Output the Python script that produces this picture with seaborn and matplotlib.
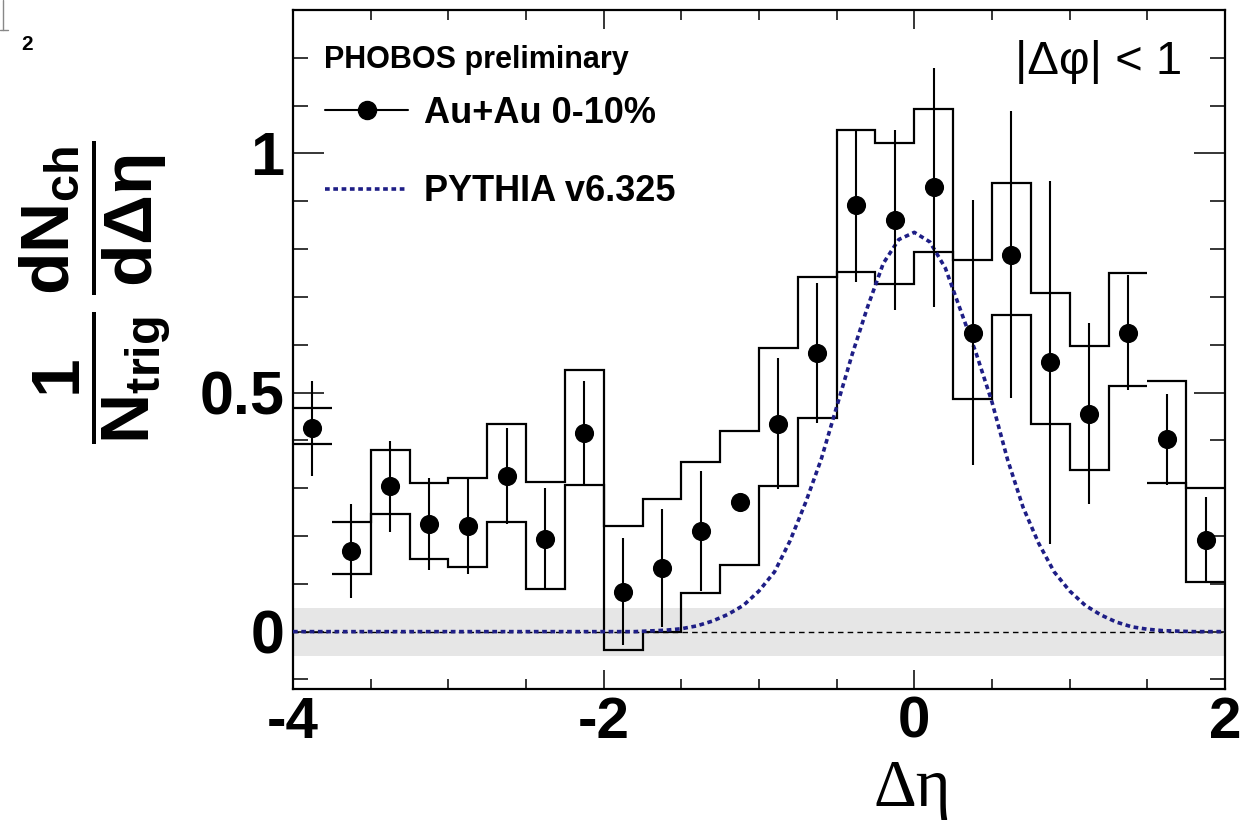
import numpy as np
import matplotlib
matplotlib.use("Agg")
import matplotlib.pyplot as plt
from matplotlib.lines import Line2D
from matplotlib.ticker import MultipleLocator, FixedLocator
import seaborn as sns

# ---------------- data ----------------
bin_edges = [-4.0, -3.75, -3.5, -3.25, -3.0, -2.75, -2.5, -2.25, -2.0, -1.75,
             -1.5, -1.25, -1.0, -0.75, -0.5, -0.25, 0.0, 0.25, 0.5, 0.75,
             1.0, 1.25, 1.5, 1.75, 2.0]
eta = [-3.875, -3.625, -3.375, -3.125, -2.875, -2.625, -2.375, -2.125,
       -1.875, -1.625, -1.375, -1.125, -0.875, -0.625, -0.375, -0.125,
       0.125, 0.375, 0.625, 0.875, 1.125, 1.375, 1.625, 1.875]
yield_auau = [0.425, 0.169, 0.304, 0.225, 0.221, 0.325, 0.194, 0.415,
              0.083, 0.133, 0.210, 0.271, 0.435, 0.583, 0.892, 0.860,
              0.929, 0.625, 0.788, 0.563, 0.456, 0.625, 0.402, 0.192]
stat_err = [0.100, 0.098, 0.095, 0.096, 0.100, 0.100, 0.107, 0.110,
            0.112, 0.123, 0.126, np.nan, 0.137, 0.146, 0.160, 0.188,
            0.250, 0.277, 0.300, 0.380, 0.190, 0.120, 0.095, 0.090]
sys_hi = [0.467, 0.229, 0.379, 0.310, 0.321, 0.435, 0.313, 0.548,
          0.221, 0.277, 0.354, 0.419, 0.594, 0.742, 1.048, 1.021,
          1.094, 0.777, 0.938, 0.709, 0.598, 0.750, 0.525, 0.300]
sys_lo = [0.392, 0.121, 0.246, 0.152, 0.135, 0.229, 0.090, 0.306,
          -0.038, 0.000, 0.081, 0.140, 0.305, 0.446, 0.752, 0.726,
          0.794, 0.486, 0.662, 0.435, 0.338, 0.513, 0.310, 0.104]
sys_groups = [(0, 1), (1, 22), (22, 24)]

pythia_x = [-4.0, -1.8, -1.6, -1.5, -1.4, -1.3, -1.2, -1.1, -1.0, -0.9, -0.8,
            -0.7, -0.6, -0.5, -0.4, -0.3, -0.2, -0.1, 0.0, 0.1, 0.2, 0.3,
            0.4, 0.5, 0.6, 0.7, 0.8, 0.9, 1.0, 1.1, 1.2, 1.3, 1.4, 1.5,
            1.6, 1.8, 2.0]
pythia_y = [0.0, 0.0, 0.003, 0.006, 0.012, 0.022, 0.036, 0.055, 0.085,
            0.125, 0.19, 0.27, 0.36, 0.47, 0.58, 0.68, 0.77, 0.82, 0.835,
            0.815, 0.76, 0.67, 0.58, 0.48, 0.36, 0.26, 0.185, 0.125, 0.085,
            0.055, 0.035, 0.02, 0.01, 0.005, 0.002, 0.0, 0.0]
band_half = 0.05

x_major = [-4, -2, 0, 2]
x_labels = ["-4", "-2", "0", "2"]
y_major = [0, 0.5, 1]
y_labels = ["0", "0.5", "1"]

legend_title = "PHOBOS preliminary"
label_data = "Au+Au 0-10%"
label_pythia = "PYTHIA v6.325"
cut_text = "|Δφ| < 1"

# ---------------- style ----------------
sns.set_theme(style="ticks")
plt.rcParams["font.family"] = ["Liberation Sans", "DejaVu Sans"]
plt.rcParams["text.color"] = "black"
plt.rcParams["mathtext.fontset"] = "custom"
plt.rcParams["mathtext.rm"] = "Liberation Sans"
plt.rcParams["mathtext.bf"] = "Liberation Sans:bold"
plt.rcParams["mathtext.it"] = "Liberation Sans:italic"

navy = "#1e1e86"
W, H = 1244, 823
fig = plt.figure(figsize=(W / 100, H / 100), dpi=100)
fig.patch.set_facecolor("white")
L, R, T, B = 293, 1225, 10, 689
ax = fig.add_axes([L / W, 1 - B / H, (R - L) / W, (B - T) / H])
ax.set_facecolor("white")

# grey band around zero and dashed zero line
ax.axhspan(-band_half, band_half, color="#e6e6e6", lw=0, zorder=0)
ax.axhline(0, color="black", lw=1.0, ls=(0, (4, 3)), zorder=1)

# systematic envelopes (upper and lower step lines)
for a, b in sys_groups:
    ax.stairs(sys_hi[a:b], bin_edges[a:b + 1], baseline=None,
              color="black", lw=1.6, zorder=3)
    ax.stairs(sys_lo[a:b], bin_edges[a:b + 1], baseline=None,
              color="black", lw=1.6, zorder=3)

# PYTHIA curve
sns.lineplot(x=pythia_x, y=pythia_y, ax=ax, color=navy, lw=2.6,
             linestyle=(0, (1.3, 1.0)), sort=False, estimator=None, zorder=4)

# statistical error bars and points
ax.errorbar(eta, yield_auau, yerr=stat_err, fmt="none", ecolor="black",
            elinewidth=1.5, capsize=0, zorder=5)
sns.scatterplot(x=eta, y=yield_auau, ax=ax, color="black", s=190,
                edgecolor="black", linewidth=0, zorder=6, legend=False)

# axes ranges and ticks
ax.set_xlim(-4, 2)
ax.set_ylim(-0.12, 1.3)
ax.xaxis.set_major_locator(FixedLocator(x_major))
ax.xaxis.set_minor_locator(MultipleLocator(0.5))
ax.yaxis.set_major_locator(FixedLocator(y_major))
ax.yaxis.set_minor_locator(MultipleLocator(0.1))
ax.set_xticklabels(x_labels)
ax.set_yticklabels(y_labels)
ax.tick_params(axis="x", which="major", direction="in", length=14, width=1.3,
               top=True, bottom=True, pad=5)
ax.tick_params(axis="x", which="minor", direction="in", length=7, width=1.3,
               top=True, bottom=True)
ax.tick_params(axis="y", which="major", direction="in", length=22, width=1.3,
               left=True, right=True, pad=6)
ax.tick_params(axis="y", which="minor", direction="in", length=11, width=1.3,
               left=True, right=True)
for lab in ax.get_xticklabels():
    lab.set_fontweight("bold")
    lab.set_fontsize(42)
    lab.set_color("black")
for lab in ax.get_yticklabels():
    lab.set_fontweight("bold")
    lab.set_fontsize(44)
    lab.set_color("black")
    lab.set_va("center_baseline")
for sp in ax.spines.values():
    sp.set_color("black")
    sp.set_linewidth(1.6)
ax.grid(False)

# texts
fig.text(324 / W, 1 - 60 / H, legend_title, fontsize=22, fontweight="bold",
         ha="left", va="center", color="black")
fig.text(1182 / W, 1 - 62 / H, cut_text, fontsize=34, ha="right", va="center",
         color="black")

h1 = Line2D([], [], color="black", marker="o", ms=13, lw=1.5)
h2 = Line2D([], [], color=navy, lw=2.6, ls=(0, (1.3, 1.0)))
leg = ax.legend([h1, h2], [label_data, label_pythia], loc="upper left",
                bbox_to_anchor=((325 - L) / (R - L), (B - 96) / (B - T)),
                frameon=False, borderpad=0, borderaxespad=0,
                handlelength=2.3, handletextpad=0.45, labelspacing=1.2,
                prop=dict(family="Liberation Sans", weight="bold", size=26))
for t in leg.get_texts():
    t.set_color("black")

# axis labels
fig.text(912 / W, 1 - 790 / H, "Δη", fontsize=48, family="Liberation Serif",
         ha="center", va="center", color="black")
fig.text(95 / W, 1 - 292 / H,
         r"$\mathbf{\dfrac{1}{N_{trig}}\,\dfrac{dN_{ch}}{d\Delta\eta}}$",
         fontsize=50, rotation=90, ha="center", va="center", color="black")

# page remnant at the top-left corner
fig.text(27 / W, 1 - 45 / H, "2", fontsize=15, fontweight="bold",
         ha="center", va="center", color="black")
fig.add_artist(Line2D([3 / W, 3 / W], [1, 1 - 30 / H], transform=fig.transFigure,
                      color="#888888", lw=1))
fig.add_artist(Line2D([0, 8 / W], [1 - 30 / H, 1 - 30 / H],
                      transform=fig.transFigure, color="#888888", lw=1))

fig.savefig("out.png", dpi=100, facecolor="white")
